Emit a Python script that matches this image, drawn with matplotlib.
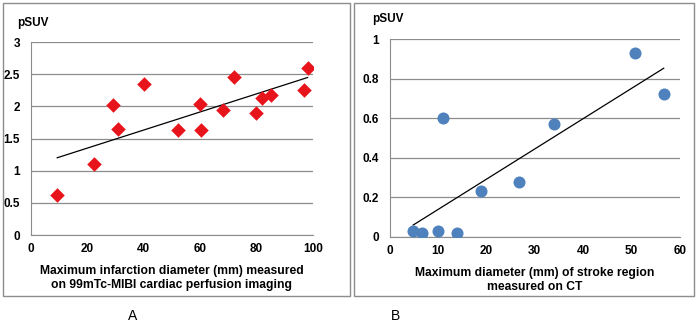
import matplotlib.pyplot as plt
from matplotlib.patches import Rectangle
import numpy as np

plt.rcParams['font.family'] = ['Liberation Sans', 'DejaVu Sans']

# Data
infarct_mm = [9.3, 22.5, 29.2, 31.0, 40.1, 52.2, 60.0, 60.2, 68.2, 72.0, 79.8, 81.9, 85.1, 96.8, 98.1]
infarct_psuv = [0.62, 1.10, 2.02, 1.65, 2.34, 1.63, 2.04, 1.64, 1.95, 2.45, 1.90, 2.13, 2.18, 2.26, 2.60]
stroke_mm = [4.8, 6.7, 9.9, 10.9, 13.9, 18.9, 26.8, 33.9, 50.7, 56.7]
stroke_psuv = [0.03, 0.02, 0.03, 0.60, 0.02, 0.23, 0.28, 0.57, 0.93, 0.72]

fig = plt.figure(figsize=(6.98, 3.31), dpi=100)

# panel borders
for x0, w in [(3, 347), (354, 340)]:
    fig.patches.append(Rectangle((x0 / 698, 1 - 296 / 331), w / 698, 293 / 331,
                                 transform=fig.transFigure, fill=False,
                                 edgecolor='#8c8c8c', linewidth=1))


def panel(rect, x, y, xlim, xticks, ylim, yticks, marker, color, ms, xlabel, ylab_x):
    ax = fig.add_axes(rect)
    ax.scatter(x, y, marker=marker, s=ms, color=color, zorder=3, linewidths=0)
    # linear trendline
    k, b = np.polyfit(x, y, 1)
    xs = np.array([min(x), max(x)])
    ax.plot(xs, k * xs + b, color='black', linewidth=0.9, zorder=2)
    ax.set_xlim(*xlim)
    ax.set_ylim(*ylim)
    ax.set_xticks(xticks)
    ax.set_yticks(yticks)
    ax.set_yticklabels([f'{v:g}' for v in yticks])
    ax.grid(axis='y', color='#8c8c8c', linewidth=0.9)
    ax.set_axisbelow(True)
    for s in ['top', 'right']:
        ax.spines[s].set_visible(False)
    for s in ['left', 'bottom']:
        ax.spines[s].set_color('#8c8c8c')
    ax.tick_params(axis='y', length=0, labelsize=8.5, pad=8)
    ax.tick_params(axis='x', length=0, labelsize=8.5, pad=6)
    for lab in ax.get_xticklabels() + ax.get_yticklabels():
        lab.set_fontweight('bold')
    ax.set_xlabel(xlabel, fontsize=8.7, fontweight='bold', labelpad=7)
    ax.text(ylab_x, 1.07, 'pSUV', transform=ax.transAxes, fontsize=8.5,
            fontweight='bold', ha='left', va='bottom')
    return ax


panel([0.0444, 0.290, 0.404, 0.583], infarct_mm, infarct_psuv, (0, 100),
      [0, 20, 40, 60, 80, 100], (0, 3), [0, 0.5, 1, 1.5, 2, 2.5, 3],
      'D', '#e8141b', 55,
      'Maximum infarction diameter (mm) measured\non 99mTc-MIBI cardiac perfusion imaging', -0.05)

panel([0.5587, 0.284, 0.415, 0.598], stroke_mm, stroke_psuv, (0, 60),
      [0, 10, 20, 30, 40, 50, 60], (0, 1), [0, 0.2, 0.4, 0.6, 0.8, 1],
      'o', '#4f81bd', 75,
      'Maximum diameter (mm) of stroke region\nmeasured on CT', -0.06)

fig.text(133 / 698, 1 - 316 / 331, 'A', fontsize=10, ha='center', va='center')
fig.text(396 / 698, 1 - 316 / 331, 'B', fontsize=10, ha='center', va='center')

fig.savefig('out.png', dpi=100)
